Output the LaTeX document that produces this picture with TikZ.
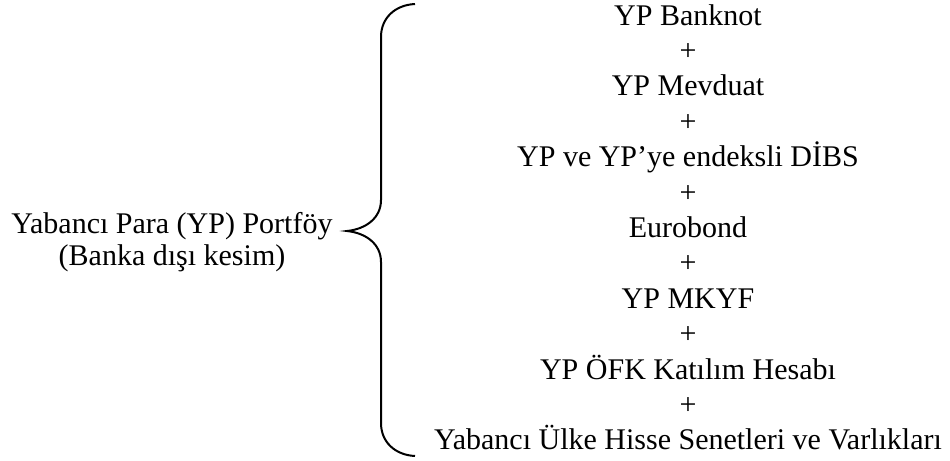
\documentclass[tikz,border=0pt]{standalone}
\usepackage{fontspec}
\setmainfont{Liberation Serif}
\usetikzlibrary{positioning}

\begin{document}
\begin{tikzpicture}[x=0.5pt,y=-0.5pt,node distance=0pt]
\tikzset{item/.style={inner sep=0pt,text height=12.5pt,text depth=4.8pt,font=\fontsize{15}{17.3}\selectfont}, lbl/.style={inner sep=0pt,text height=12.5pt,text depth=3.5pt,font=\fontsize{15}{16}\selectfont}, brace/.style={draw=black,line width=1pt}}
\useasboundingbox (0,0) rectangle (950,461);
\node[item,anchor=base] (bnk) at (688,25) {YP Banknot};
\node[item,below=of bnk] (p1) {+};
\node[item,below=of p1] (mev) {YP Mevduat};
\node[item,below=of mev] (p2) {+};
\node[item,below=of p2] (dibs) {YP ve YP’ye endeksli DİBS};
\node[item,below=of dibs] (p3) {+};
\node[item,below=of p3] (euro) {Eurobond};
\node[item,below=of euro] (p4) {+};
\node[item,below=of p4] (mkyf) {YP MKYF};
\node[item,below=of mkyf] (p5) {+};
\node[item,below=of p5] (ofk) {YP ÖFK Katılım Hesabı};
\node[item,below=of ofk] (p6) {+};
\node[item,below=of p6] (hisse) {Yabancı Ülke Hisse Senetleri ve Varlıkları};
\node[lbl,anchor=base] (port) at (172,233) {Yabancı Para (YP) Portföy};
\node[lbl,below=of port] (kesim) {(Banka dışı kesim)};
\coordinate (tip) at (347,231);
\draw[brace] (415,4) .. controls (395,5) and (381,18) .. (381,37) -- (381,200) .. controls (381,218) and (366,229) .. (tip) .. controls (366,233) and (381,244) .. (381,262) -- (381,423) .. controls (381,442) and (395,455) .. (415,456);
\end{tikzpicture}
\end{document}
